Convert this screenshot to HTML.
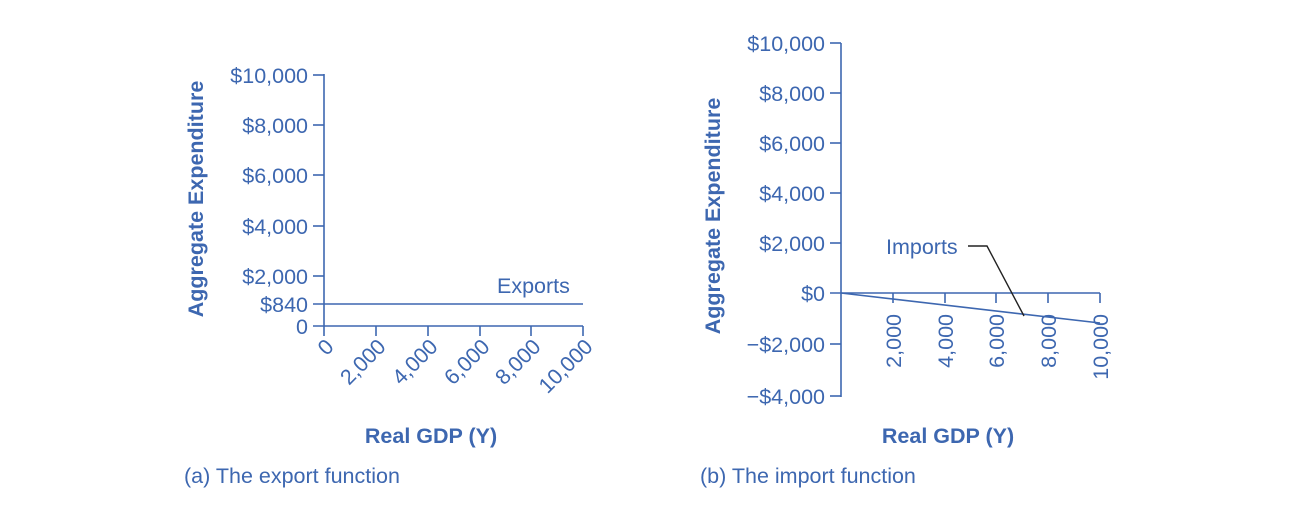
<!DOCTYPE html>
<html><head><style>
body{margin:0;background:#fff}
svg text{font-family:"Liberation Sans",Arial,sans-serif;fill:#3d67b0;font-size:21.5px}
</style></head><body>
<svg width="1300" height="520" viewBox="0 0 1300 520" xmlns="http://www.w3.org/2000/svg">
<g stroke="#3d67b0" stroke-width="1.6" fill="none">
<line x1="324" y1="74" x2="324" y2="336"/>
<line x1="313" y1="75" x2="324" y2="75"/>
<line x1="313" y1="125" x2="324" y2="125"/>
<line x1="313" y1="175" x2="324" y2="175"/>
<line x1="313" y1="226" x2="324" y2="226"/>
<line x1="313" y1="276" x2="324" y2="276"/>
<line x1="313" y1="326" x2="583" y2="326"/>
<line x1="313" y1="304" x2="583" y2="304"/>
<line x1="376" y1="326" x2="376" y2="336"/>
<line x1="428" y1="326" x2="428" y2="336"/>
<line x1="480" y1="326" x2="480" y2="336"/>
<line x1="531" y1="326" x2="531" y2="336"/>
<line x1="583" y1="326" x2="583" y2="336"/>
<line x1="841" y1="43" x2="841" y2="397"/>
<line x1="830" y1="43" x2="841" y2="43"/>
<line x1="830" y1="93" x2="841" y2="93"/>
<line x1="830" y1="143" x2="841" y2="143"/>
<line x1="830" y1="193" x2="841" y2="193"/>
<line x1="830" y1="243" x2="841" y2="243"/>
<line x1="830" y1="293" x2="1100" y2="293"/>
<line x1="830" y1="344" x2="841" y2="344"/>
<line x1="830" y1="396" x2="841" y2="396"/>
<line x1="893" y1="293" x2="893" y2="303"/>
<line x1="945" y1="293" x2="945" y2="303"/>
<line x1="996" y1="293" x2="996" y2="303"/>
<line x1="1048" y1="293" x2="1048" y2="303"/>
<line x1="1100" y1="293" x2="1100" y2="303"/>
<line x1="841" y1="293" x2="1100" y2="323"/>
</g>
<polyline points="968,246 987,246 1024,316" stroke="#222" stroke-width="1.4" fill="none"/>
<g text-anchor="end">
<text x="308" y="83">$10,000</text>
<text x="308" y="133">$8,000</text>
<text x="308" y="183">$6,000</text>
<text x="308" y="234">$4,000</text>
<text x="308" y="284">$2,000</text>
<text x="308" y="312">$840</text>
<text x="308" y="334">0</text>
<text transform="translate(335,348) rotate(-45)">0</text>
<text transform="translate(387,348) rotate(-45)">2,000</text>
<text transform="translate(439,348) rotate(-45)">4,000</text>
<text transform="translate(491,348) rotate(-45)">6,000</text>
<text transform="translate(542,348) rotate(-45)">8,000</text>
<text transform="translate(594,348) rotate(-45)">10,000</text>
<text x="825" y="51">$10,000</text>
<text x="825" y="101">$8,000</text>
<text x="825" y="151">$6,000</text>
<text x="825" y="201">$4,000</text>
<text x="825" y="251">$2,000</text>
<text x="825" y="301">$0</text>
<text x="825" y="352">−$2,000</text>
<text x="825" y="404">−$4,000</text>
<text transform="translate(901,314) rotate(-90)">2,000</text>
<text transform="translate(953,314) rotate(-90)">4,000</text>
<text transform="translate(1004,314) rotate(-90)">6,000</text>
<text transform="translate(1056,314) rotate(-90)">8,000</text>
<text transform="translate(1108,314) rotate(-90)">10,000</text>
</g>
<text x="497" y="293">Exports</text>
<text x="886" y="254">Imports</text>
<text transform="translate(203,199) rotate(-90)" text-anchor="middle" font-weight="bold">Aggregate Expenditure</text>
<text transform="translate(720,216) rotate(-90)" text-anchor="middle" font-weight="bold">Aggregate Expenditure</text>
<text x="431" y="443" text-anchor="middle" font-weight="bold">Real GDP (Y)</text>
<text x="948" y="443" text-anchor="middle" font-weight="bold">Real GDP (Y)</text>
<text x="184" y="483">(a) The export function</text>
<text x="700" y="483">(b)  The import function</text>
</svg>
</body></html>
